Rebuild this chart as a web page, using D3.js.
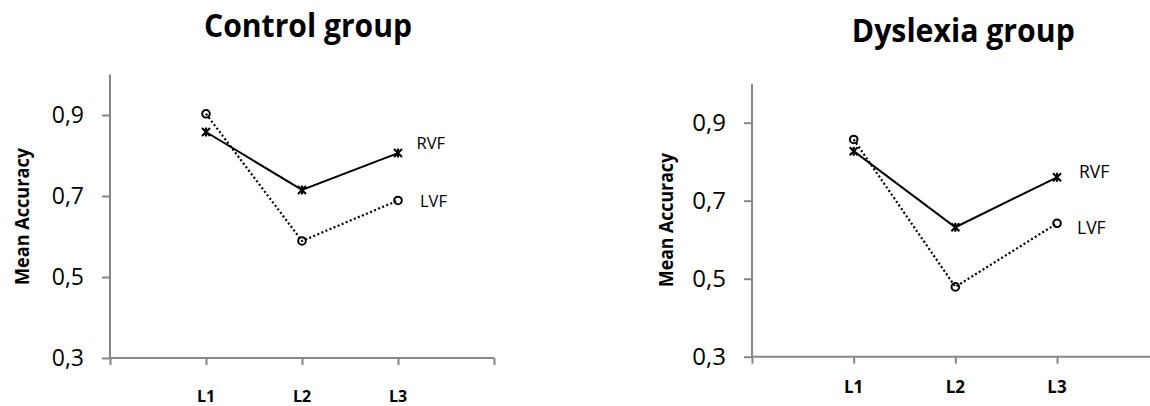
<!DOCTYPE html>
<html>
<head>
<meta charset="utf-8">
<script src="https://cdn.jsdelivr.net/npm/d3@7"></script>
<style>
    body { margin: 0; background: #ffffff; }
    svg { display: block; font-family: "Open Sans", sans-serif; }
</style>
</head>
<body>
<div id="chart"></div>
<script>
"use strict";

// Chart values
var categories = ["L1", "L2", "L3"];
var yTicks = [0.3, 0.5, 0.7, 0.9];
var seriesNames = ["RVF", "LVF"];

var controlRVF = [0.858, 0.715, 0.806];
var controlLVF = [0.903, 0.589, 0.689];

var dyslexiaRVF = [0.827, 0.632, 0.760];
var dyslexiaLVF = [0.857, 0.479, 0.642];

var w = 1150;
var h = 406;

// Decimal comma, like the original
var locale = d3.formatLocale({ decimal: ",", thousands: ".", grouping: [3], currency: ["", ""] });
var fmt = locale.format(".1f");

var svg = d3.select("#chart")
    .append("svg")
    .attr("width", w)
    .attr("height", h);

var axisColor = "#878787";

// Layout of each panel
var panels = [
    {
        title: "Control group", rvf: controlRVF, lvf: controlLVF,
        x0: 110, x1: 494, yBottom: 358, yTop: 74.5,
        titleX: 308, titleY: 36.7, titleW: 208,
        yLabX: 28.5, yLabY: 216.5, yLabW: 137,
        tickSize: 23, catSize: 16, catY: 401.5,
        rvfLab: [416.5, 148.5], lvfLab: [420, 206.7], serSize: 16.5
    },
    {
        title: "Dyslexia group", rvf: dyslexiaRVF, lvf: dyslexiaLVF,
        x0: 752, x1: 1158.7, yBottom: 356.7, yTop: 83.7,
        titleX: 963.3, titleY: 41.7, titleW: 223,
        yLabX: 672.5, yLabY: 220, yLabW: 134,
        tickSize: 24, catSize: 17, catY: 393,
        rvfLab: [1079, 178.3], lvfLab: [1077, 234], serSize: 17.5
    }
];

function drawPanel(p) {
    var g = svg.append("g");

    // category i sits on tick i+1, with empty slots at both ends
    var x = d3.scaleLinear()
        .domain([0, categories.length + 1])
        .range([p.x0, p.x1]);

    var y = d3.scaleLinear()
        .domain([0.3, 1.0])
        .range([p.yBottom, p.yTop]);

    //Y axis
    var yAxis = d3.axisLeft(y)
        .tickValues(yTicks)
        .tickSize(8)
        .tickPadding(18)
        .tickFormat(fmt);

    var ya = g.append("g")
        .attr("transform", "translate(" + p.x0 + ",0)")
        .call(yAxis);
    ya.select(".domain")
        .attr("d", "M0," + y(1.0) + "V" + y(0.3))
        .attr("stroke", axisColor)
        .attr("stroke-width", 2);
    ya.selectAll(".tick line")
        .attr("stroke", axisColor)
        .attr("stroke-width", 2);
    ya.selectAll(".tick text")
        .attr("fill", "#000")
        .style("font-size", p.tickSize + "px")
        .style("font-family", "'Open Sans', sans-serif");

    //X axis, ticks only, labels placed separately
    var xAxis = d3.axisBottom(x)
        .tickValues(d3.range(0, categories.length + 2))
        .tickSize(7)
        .tickFormat("");

    var xa = g.append("g")
        .attr("transform", "translate(0," + p.yBottom + ")")
        .call(xAxis);
    xa.select(".domain")
        .attr("d", "M" + p.x0 + ",0H" + p.x1)
        .attr("stroke", axisColor)
        .attr("stroke-width", 2);
    xa.selectAll(".tick line")
        .attr("stroke", axisColor)
        .attr("stroke-width", 2);

    g.selectAll(".cat")
        .data(categories)
        .enter()
        .append("text")
        .attr("class", "cat")
        .attr("x", function (d, i) { return x(i + 1); })
        .attr("y", p.catY)
        .attr("text-anchor", "middle")
        .style("font-size", p.catSize + "px")
        .style("font-weight", "bold")
        .text(function (d) { return d; });

    //Lines
    var line = d3.line()
        .x(function (d, i) { return x(i + 1); })
        .y(function (d) { return y(d); });

    g.append("path")
        .datum(p.lvf)
        .attr("d", line)
        .attr("fill", "none")
        .attr("stroke", "#000")
        .attr("stroke-width", 2.2)
        .attr("stroke-dasharray", "2,2.4");

    g.append("path")
        .datum(p.rvf)
        .attr("d", line)
        .attr("fill", "none")
        .attr("stroke", "#000")
        .attr("stroke-width", 2);

    //LVF circles
    g.selectAll(".lvf")
        .data(p.lvf)
        .enter()
        .append("circle")
        .attr("class", "lvf")
        .attr("cx", function (d, i) { return x(i + 1); })
        .attr("cy", function (d) { return y(d); })
        .attr("r", 3.8)
        .attr("fill", "none")
        .attr("stroke", "#000")
        .attr("stroke-width", 2);

    //RVF star markers
    g.selectAll(".rvf")
        .data(p.rvf)
        .enter()
        .append("path")
        .attr("class", "rvf")
        .attr("transform", function (d, i) {
            return "translate(" + x(i + 1) + "," + y(d) + ")";
        })
        .attr("d", "M-4,-4L4,4M-4,4L4,-4M0,-4.5L0,4.5")
        .attr("fill", "none")
        .attr("stroke", "#000")
        .attr("stroke-width", 2.1);

    //Series labels
    var labPos = [p.rvfLab, p.lvfLab];
    g.selectAll(".ser")
        .data(seriesNames)
        .enter()
        .append("text")
        .attr("class", "ser")
        .attr("x", function (d, i) { return labPos[i][0]; })
        .attr("y", function (d, i) { return labPos[i][1]; })
        .style("font-size", p.serSize + "px")
        .attr("fill", "#000")
        .text(function (d) { return d; });

    //Title
    g.append("text")
        .attr("x", p.titleX)
        .attr("y", p.titleY)
        .attr("text-anchor", "middle")
        .attr("textLength", p.titleW)
        .attr("lengthAdjust", "spacingAndGlyphs")
        .style("font-size", "32px")
        .style("font-weight", "bold")
        .text(p.title);

    //Y axis label
    g.append("text")
        .attr("transform", "translate(" + p.yLabX + "," + p.yLabY + ") rotate(-90)")
        .attr("text-anchor", "middle")
        .attr("textLength", p.yLabW)
        .attr("lengthAdjust", "spacingAndGlyphs")
        .style("font-size", "19px")
        .style("font-weight", "bold")
        .text("Mean Accuracy");
}

panels.forEach(drawPanel);
</script>
</body>
</html>
